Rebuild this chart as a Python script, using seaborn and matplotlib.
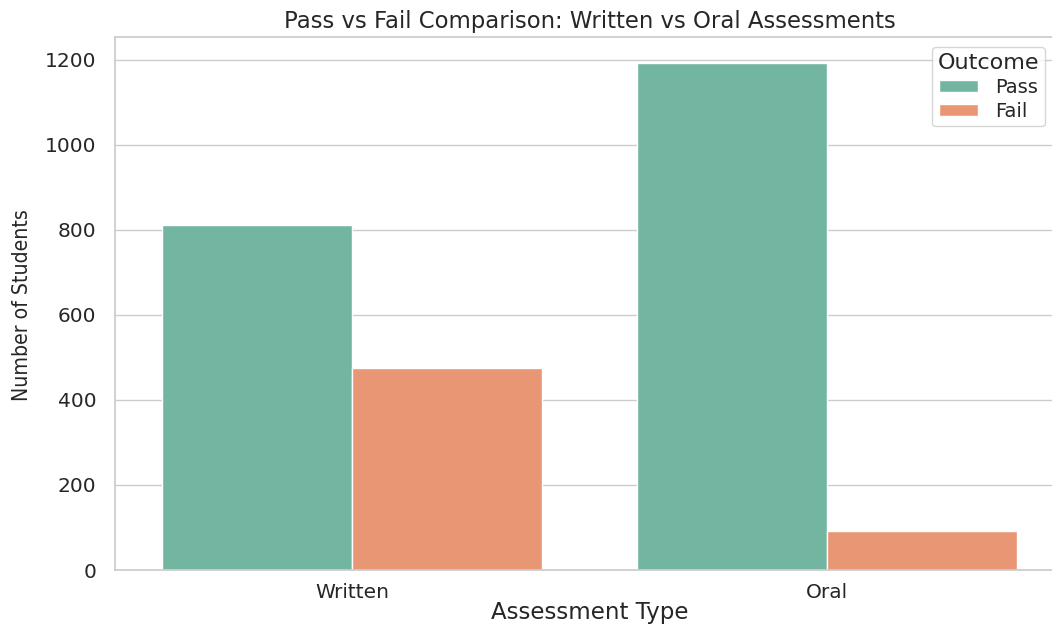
import pandas as pd
import matplotlib
matplotlib.use("Agg")
import matplotlib.pyplot as plt
from matplotlib import font_manager as fm
import seaborn as sns

# chart values
assessment_types = ["Written", "Oral"]
outcomes = ["Pass", "Fail"]
pass_counts = [812, 1193]
fail_counts = [476, 92]

data = pd.DataFrame({
    "Assessment Type": assessment_types * 2,
    "Outcome": [outcomes[0]] * 2 + [outcomes[1]] * 2,
    "Count": pass_counts + fail_counts,
})

sns.set_theme(style="whitegrid", palette="Set2")
plt.rcParams["font.family"] = ["DejaVu Sans"]

# the y label in the reference is narrow; look for a condensed sans face
narrow = None
for f in fm.fontManager.ttflist:
    name = f.fname.lower()
    if ("condensed" in name or "narrow" in name or f.stretch in ("condensed", "semi-condensed")) \
            and f.weight in (400, "normal", "regular") and f.style == "normal" \
            and "extra" not in name and "semi" not in name and "mono" not in name and "serif" not in name:
        narrow = f.fname
        break
if narrow:
    ylab_font = fm.FontProperties(fname=narrow, size=15.2)
else:
    ylab_font = fm.FontProperties(family="DejaVu Sans", size=13)

fig = plt.figure(figsize=(10.52, 6.25), dpi=100)
ax = fig.add_axes([115 / 1052, 55 / 625, 949.7 / 1052, 532.7 / 625])

sns.barplot(data=data, x="Assessment Type", y="Count", hue="Outcome",
            order=assessment_types, hue_order=outcomes, palette="Set2", ax=ax)

ax.set_title("Pass vs Fail Comparison: Written vs Oral Assessments", fontsize=16.4, pad=7)
ax.set_xlabel("Assessment Type", fontsize=16.5)
ax.set_ylabel("Number of Students", fontproperties=ylab_font)
ax.xaxis.set_label_coords(0.5, -0.058)
ax.yaxis.set_label_coords(-0.0874, 0.497)
ax.tick_params(axis="both", labelsize=14.5)
ax.tick_params(axis="y", pad=7.5)

leg = ax.legend(title="Outcome", fontsize=14, title_fontsize=16,
                loc="upper right", bbox_to_anchor=(1045 / 1052, 578 / 625),
                bbox_transform=fig.transFigure, borderaxespad=0,
                labelspacing=0.25, borderpad=0.3, handleheight=0.6,
                handlelength=2.0, handletextpad=0.9)

fig.savefig("out.png", dpi=100)
